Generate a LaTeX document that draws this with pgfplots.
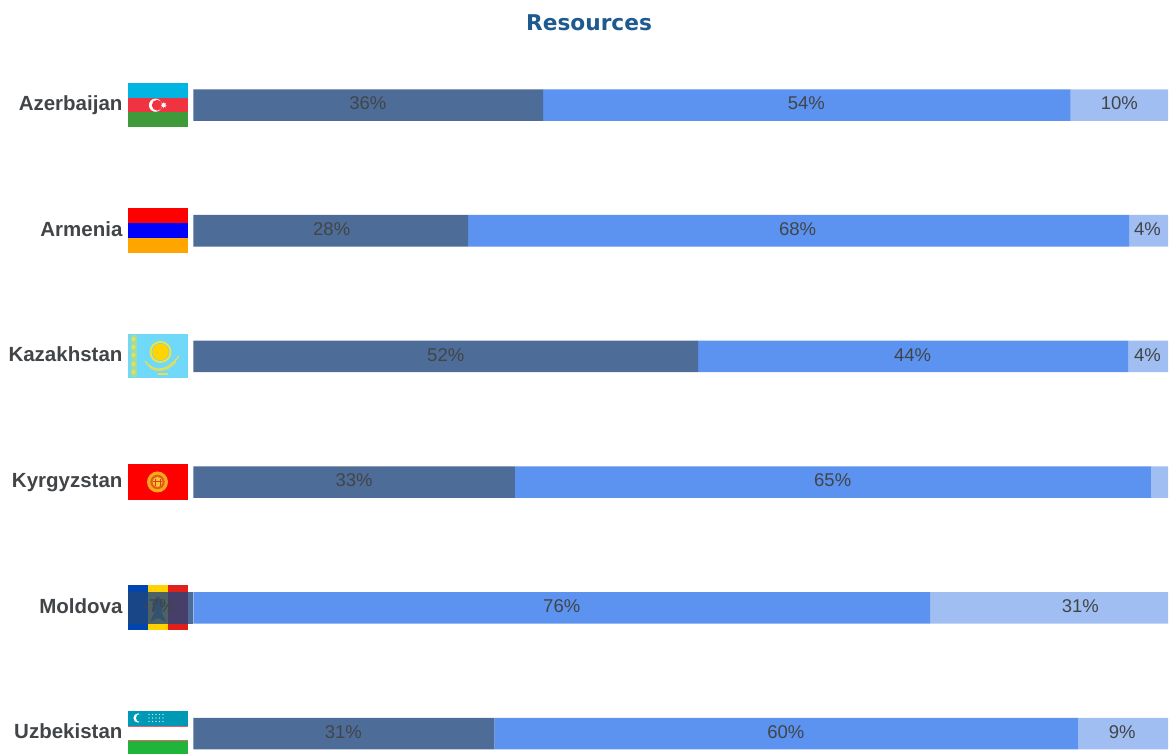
\documentclass[border=0pt]{standalone}
\usepackage{pgfplots}
\pgfplotsset{compat=1.18}
\usepackage{pgfplotstable}
\usepackage{fontspec}
\setmainfont{Liberation Sans}
\newfontfamily\titlefont{DejaVu Sans}
\usetikzlibrary{shapes.geometric}
\definecolor{bsolid}{HTML}{4D6C97}
\definecolor{bdark}{HTML}{20477D}
\definecolor{bmid}{HTML}{5C92F0}
\definecolor{blight}{HTML}{A0BEF2}
\definecolor{txt}{HTML}{424548}
\definecolor{ttl}{HTML}{1F5A8E}
\tikzset{HTML/.code={\definecolor{tmpc}{HTML}{#1}\pgfkeysalso{/tikz/color=tmpc}}}
\pgfplotstableread{
y dark mid light
5 35.9 54.1 10
4 28.2 67.8 4
3 51.8 44.1 4.1
2 33.0 65.3 1.7
1 0 75.6 31
0 30.9 59.9 9.2
}\bars
\pgfplotstableread{
y neg
1 -6.7
}\negbar
\pgfplotstableread{
x y label
17.9 5 36
62.9 5 54
95 5 10
14.2 4 28
62 4 68
97.9 4 4
25.9 3 52
73.8 3 44
97.9 3 4
16.5 2 33
65.6 2 65
-3.5 1 -7
37.8 1 76
91 1 31
15.4 0 31
60.8 0 60
95.3 0 9
}\labels
\pgfplotsset{base/.style={
  at={(128pt,0pt)}, anchor=south west,
  scale only axis, width=1040pt, height=754pt,
  xmin=-6.7, xmax=100, ymin=-0.163, ymax=5.836,
  axis line style={draw=none}, tick style={draw=none},
  xtick=\empty,
}}
\begin{document}
\begin{tikzpicture}
\path[use as bounding box] (0,0) rectangle (1170pt,754pt);
\clip (0,0) rectangle (1170pt,754pt);
\begin{scope}[x=1pt,y=-1pt,yshift=754pt]
% Azerbaijan
\fill[HTML=00B5E2] (128,83) rectangle (188,98);
\fill[HTML=EF3340] (128,98) rectangle (188,112.5);
\fill[HTML=3F9B3A] (128,112.5) rectangle (188,127.5);
\fill[white] (155.5,105.2) circle (6.6);
\fill[HTML=EF3340] (157.2,105.2) circle (5.4);
\node[star,star points=8,star point ratio=1.8,fill=white,inner sep=0pt,minimum size=6pt] at (163.7,105.2) {};
% Armenia
\fill[HTML=FF0000] (128,208.5) rectangle (188,223.3);
\fill[HTML=0000FF] (128,223.3) rectangle (188,238);
\fill[HTML=FFA500] (128,238) rectangle (188,253);
% Kazakhstan
\fill[HTML=70D8F8] (128,334) rectangle (188,378.5);
\fill[HTML=A0DDA0] (130.5,335) rectangle (136.5,377.5);
\foreach \py in {339,347,355,364,372}{\fill[HTML=E4E050] (133.5,\py) circle (2.2);}
\fill[HTML=F2E43C] (160.5,352) circle (11);
\fill[HTML=70D8F8] (160.5,352) circle (9);
\fill[HTML=FFD400] (160.5,352) circle (8.2);
\draw[HTML=E8E050,line width=1.3pt] (145,361) .. controls (150,369) and (160,371) .. (167,367) .. controls (172,364) and (176,360) .. (179,356);
\draw[HTML=E8E050,line width=1.1pt] (149,366) .. controls (155,373) and (167,372) .. (176,362);
\draw[HTML=E8E050,line width=1.2pt] (158,374) -- (168,374);
% Kyrgyzstan
\fill[HTML=FF0000] (128,464) rectangle (188,500.3);
\fill[HTML=F7A81B] (157.5,482) circle (10.5);
\fill[HTML=E0601A] (157.5,482) circle (7.2);
\fill[HTML=FFC030] (157.5,482) circle (5);
\draw[HTML=D8401A,line width=.8pt] (153,481) -- (162,481) (155,479) -- (155,486) (160,479) -- (160,486);
% Moldova
\fill[HTML=0046AE] (128,585.5) rectangle (148,630.3);
\fill[HTML=FFD200] (148,585.5) rectangle (168,630.3);
\fill[HTML=E0201B] (168,585.5) rectangle (188,630.3);
\fill[HTML=8A7A40] (158,596) -- (164,603) -- (161.5,612) -- (166,622) -- (158,618) -- (150,622) -- (154.5,612) -- (152,603) -- cycle;
% Uzbekistan
\fill[HTML=0099B5] (128,711.3) rectangle (188,726);
\fill[HTML=E8606E] (128,726) rectangle (188,727);
\fill[white] (128,727) rectangle (188,740);
\fill[HTML=E8606E] (128,740) rectangle (188,741);
\fill[HTML=1EB53A] (128,741) rectangle (188,757);
\fill[white] (138,718) circle (4.6);
\fill[HTML=0099B5] (140,718) circle (4);
\foreach \px in {149,152.5,156,159.5,163}{\foreach \py in {714.5,718,721.5}{\fill[white] (\px,\py) circle (.55);}}
\end{scope}
\begin{axis}[base, hide axis]
\addplot[xbar, bar width=31.5pt, fill=bdark, opacity=.8, draw=none] table[x=neg,y=y]{\negbar};
\end{axis}
\begin{axis}[base,
  xbar stacked, bar width=31.5pt,
  ytick={0,1,2,3,4,5},
  yticklabels={Uzbekistan,Moldova,Kyrgyzstan,Kazakhstan,Armenia,Azerbaijan},
  yticklabel style={font=\fontsize{20.5}{22}\selectfont\bfseries, text=txt, anchor=east, text height=18pt, text depth=3.2pt, inner ysep=0pt, yshift=2pt},
  major tick length=0pt,
  tick align=outside,
  yticklabel shift=2pt,
  title={\titlefont\bfseries\fontsize{21.7}{24}\selectfont\textcolor{ttl}{Resources}},
  title style={at={(axis description cs:0.4433,0.9708)},anchor=center,inner sep=0pt,yshift=-7pt},
]
\addplot[fill=bsolid,draw=none] table[x=dark,y=y]{\bars};
\addplot[fill=bmid,draw=none] table[x=mid,y=y]{\bars};
\addplot[fill=blight,draw=none] table[x=light,y=y]{\bars};
\end{axis}
\begin{axis}[base, hide axis]
\addplot[draw=none, mark=none, nodes near coords={\pgfplotspointmeta\%},
  point meta=explicit symbolic,
  every node near coord/.style={anchor=center, inner sep=0pt, text=txt, yshift=1.5pt, font=\fontsize{18.5}{20}\selectfont}]
  table[x=x,y=y,meta=label]{\labels};
\end{axis}
\end{tikzpicture}
\end{document}
